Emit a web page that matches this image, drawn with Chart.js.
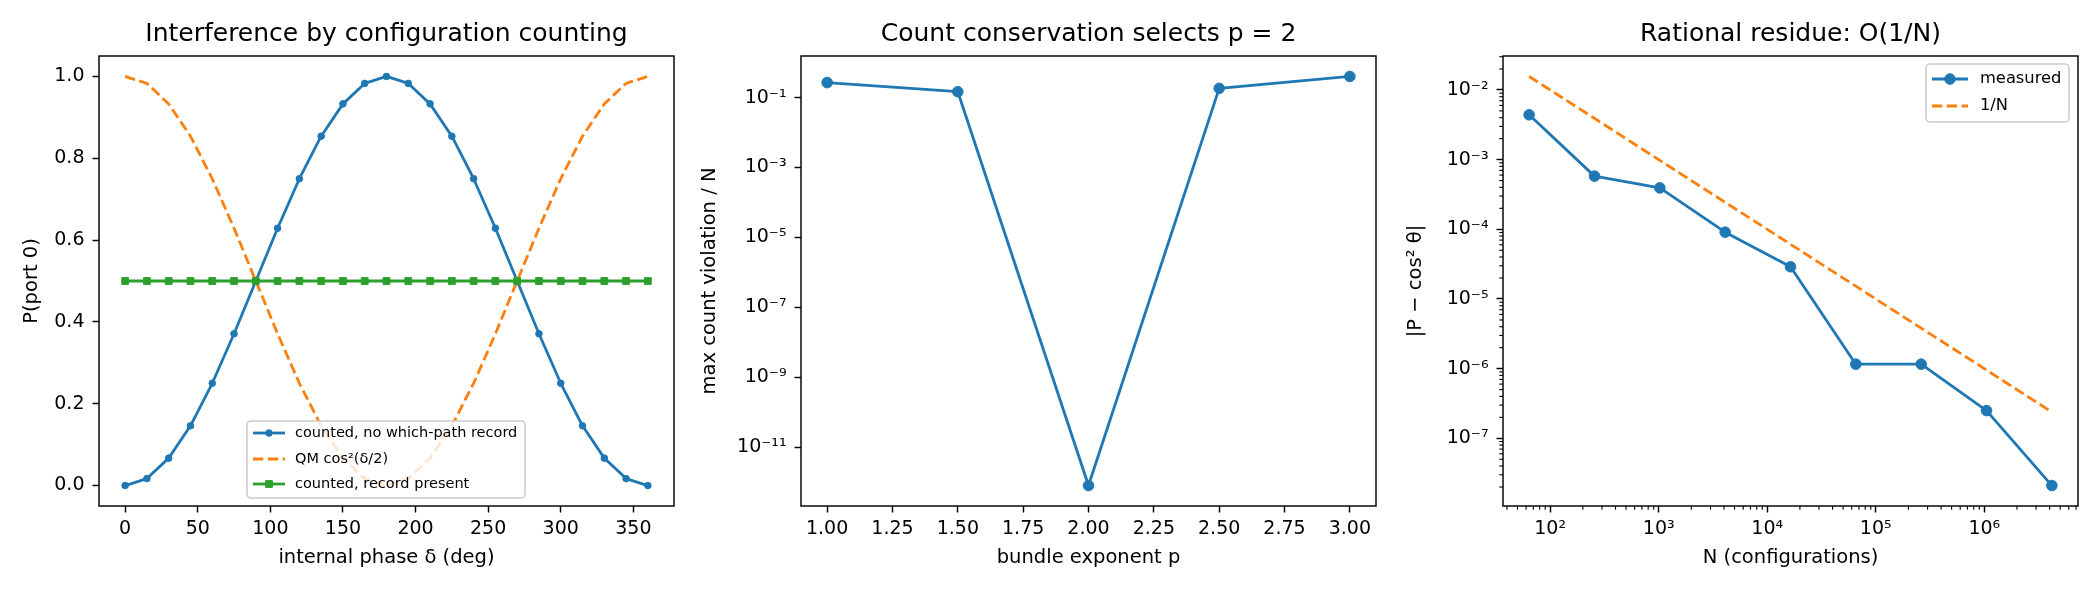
<!DOCTYPE html>
<html><head><meta charset="utf-8">
<script src="https://cdn.jsdelivr.net/npm/chart.js@4.4.0/dist/chart.umd.min.js"></script>
<style>
html,body{margin:0;padding:0;background:#fff;width:2100px;height:600px;overflow:hidden;}
canvas{position:absolute;top:0;}
</style></head><body>
<canvas id="c1" width="700" height="600" style="left:0px;width:700px;height:600px"></canvas>
<canvas id="c2" width="700" height="600" style="left:698px;width:700px;height:600px"></canvas>
<canvas id="c3" width="700" height="600" style="left:1400px;width:700px;height:600px"></canvas>
<script>
// ---------------- data ----------------
const phaseDeg = [0,15,30,45,60,75,90,105,120,135,150,165,180,195,210,225,240,255,270,285,300,315,330,345,360];
const countedNoRecord = [0,0.017,0.067,0.146,0.25,0.371,0.5,0.629,0.75,0.854,0.933,0.983,1.0,0.983,0.933,0.854,0.75,0.629,0.5,0.371,0.25,0.146,0.067,0.017,0];
const qmCos2 = [1.0,0.983,0.933,0.854,0.75,0.629,0.5,0.371,0.25,0.146,0.067,0.017,0,0.017,0.067,0.146,0.25,0.371,0.5,0.629,0.75,0.854,0.933,0.983,1.0];
const countedRecord = [0.5,0.5,0.5,0.5,0.5,0.5,0.5,0.5,0.5,0.5,0.5,0.5,0.5,0.5,0.5,0.5,0.5,0.5,0.5,0.5,0.5,0.5,0.5,0.5,0.5];

const bundleExponent = [1.0,1.5,2.0,2.5,3.0];
const maxViolation = [0.27,0.148,7.9e-13,0.185,0.405];

const configN = [64,256,1024,4096,16384,65536,262144,1048576,4194304];
const residueMeasured = [4.4e-3,5.8e-4,3.93e-4,9.1e-5,2.9e-5,1.16e-6,1.16e-6,2.5e-7,2.1e-8];
const oneOverN = [1.5625e-2,3.906e-3,9.766e-4,2.441e-4,6.104e-5,1.526e-5,3.815e-6,9.537e-7,2.384e-7];

const phaseTicks = [0,50,100,150,200,250,300,350];
const probTicks = [0,0.2,0.4,0.6,0.8,1.0];
const exponentTicks = [1.0,1.25,1.5,1.75,2.0,2.25,2.5,2.75,3.0];
const violationTicks = [1e-1,1e-3,1e-5,1e-7,1e-9,1e-11];
const nTicks = [1e2,1e3,1e4,1e5,1e6];
const residueTicks = [1e-2,1e-3,1e-4,1e-5,1e-6,1e-7];

// ---------------- helpers ----------------
const FONT = "'DejaVu Sans', 'Liberation Sans', sans-serif";
const BLUE = '#1f77b4', ORANGE = '#ff7f0e', GREEN = '#2ca02c';
const TICK_FS = 19, LABEL_FS = 19.5, TITLE_FS = 25;
Chart.defaults.font.family = FONT;
Chart.defaults.color = '#000';

function linRange(vals){const lo=Math.min(...vals),hi=Math.max(...vals),m=0.05*(hi-lo);return [lo-m,hi+m];}
function logRange(vals){const l=vals.map(v=>Math.log10(v));const lo=Math.min(...l),hi=Math.max(...l),m=0.05*(hi-lo);return [Math.pow(10,lo-m),Math.pow(10,hi+m)];}
const SUP = {'0':'⁰','1':'¹','2':'²','3':'³','4':'⁴','5':'⁵','6':'⁶','7':'⁷','8':'⁸','9':'⁹','-':'⁻'};
function pow10Label(v){const e=Math.round(Math.log10(v));return '10'+String(e).split('').map(c=>SUP[c]).join('');}
function pts(xs,ys){return xs.map((x,i)=>({x:x,y:ys[i]}));}
function minorVals(lo,hi){const out=[];for(let e=Math.floor(Math.log10(lo));e<=Math.ceil(Math.log10(hi));e++){for(let k=2;k<=9;k++){const v=k*Math.pow(10,e);if(v>=lo&&v<=hi)out.push(v);}}return out;}

function axis(type,min,max,tickVals,fmt,isY,L,titleText,titlePad){
  return {
    type:type,min:min,max:max,
    afterBuildTicks:(s)=>{s.ticks=tickVals.map(v=>({value:v}));},
    afterFit:(s)=>{ if(isY){s.width=L;} else {s.height=94;} },
    ticks:{callback:fmt,autoSkip:false,maxRotation:0,minRotation:0,padding:isY?8:5,color:'#000',font:{size:TICK_FS,family:FONT}},
    grid:{display:true,drawOnChartArea:false,drawTicks:true,tickLength:6.5,tickWidth:1.45,tickColor:'#000'},
    border:{display:false},
    title:{display:true,text:titleText,color:'#000',font:{size:LABEL_FS,family:FONT},padding:isY?{top:titlePad,bottom:0}:{top:0,bottom:titlePad}}
  };
}

function roundRectPath(ctx,x,y,w,h,r){ctx.beginPath();ctx.moveTo(x+r,y);ctx.lineTo(x+w-r,y);ctx.arcTo(x+w,y,x+w,y+r,r);ctx.lineTo(x+w,y+h-r);ctx.arcTo(x+w,y+h,x+w-r,y+h,r);ctx.lineTo(x+r,y+h);ctx.arcTo(x,y+h,x,y+h-r,r);ctx.lineTo(x,y+r);ctx.arcTo(x,y,x+r,y,r);ctx.closePath();}

function drawMarker(ctx,style,x,y,r,color,bw){
  ctx.fillStyle=color;ctx.strokeStyle=color;ctx.lineWidth=bw;
  ctx.beginPath();
  if(style==='rect'){const s=r*Math.SQRT1_2;ctx.rect(x-s,y-s,2*s,2*s);}
  else{ctx.arc(x,y,r,0,Math.PI*2);}
  ctx.fill();ctx.stroke();
}

function framePlugin(minor, legend){
  return {
    id:'frameAndLegend',
    afterDraw(chart){
      const ctx=chart.ctx, a=chart.chartArea;
      ctx.save();
      ctx.strokeStyle='#000';ctx.lineWidth=1.45;ctx.setLineDash([]);
      ctx.strokeRect(a.left,a.top,a.right-a.left,a.bottom-a.top);
      if(minor){
        ctx.lineWidth=1.1;
        const xs=chart.scales.x, ys=chart.scales.y;
        minorVals(xs.min,xs.max).forEach(v=>{const p=xs.getPixelForValue(v);ctx.beginPath();ctx.moveTo(p,a.bottom);ctx.lineTo(p,a.bottom+3.7);ctx.stroke();});
        minorVals(ys.min,ys.max).forEach(v=>{const p=ys.getPixelForValue(v);ctx.beginPath();ctx.moveTo(a.left,p);ctx.lineTo(a.left-3.7,p);ctx.stroke();});
      }
      if(legend){
        const L=legend;
        roundRectPath(ctx,L.x,L.y,L.w,L.h,4);
        ctx.fillStyle='rgba(255,255,255,0.8)';ctx.fill();
        ctx.strokeStyle='#cccccc';ctx.lineWidth=1.6;ctx.stroke();
        L.rows.forEach(r=>{
          const ds=chart.data.datasets[r.ds];
          ctx.beginPath();ctx.setLineDash(ds.borderDash||[]);
          ctx.strokeStyle=ds.borderColor;ctx.lineWidth=ds.borderWidth;ctx.lineCap='butt';
          ctx.moveTo(L.hx1,r.y);ctx.lineTo(L.hx2,r.y);ctx.stroke();ctx.setLineDash([]);
          if(ds.pointRadius>0){drawMarker(ctx,ds.pointStyle,(L.hx1+L.hx2)/2,r.y,ds.pointRadius,ds.pointBackgroundColor,ds.pointBorderWidth);}
          ctx.fillStyle='#000';ctx.font=L.font+'px '+FONT;ctx.textBaseline='middle';ctx.textAlign='left';
          ctx.fillText(ds.label,L.tx,r.y);
        });
      }
      ctx.restore();
    }
  };
}

function titleOpt(text){return {display:true,fullSize:false,text:text,color:'#000',font:{size:TITLE_FS,family:FONT,weight:'normal',lineHeight:1.2},padding:{top:19.6,bottom:6.4}};}

function baseOptions(L,R,title,scales){
  return {
    responsive:false,animation:false,devicePixelRatio:1,events:[],
    layout:{padding:{left:0,right:R,top:0,bottom:0}},
    plugins:{legend:{display:false},tooltip:{enabled:false},title:titleOpt(title)},
    scales:scales
  };
}

// ---------------- panel 1 ----------------
const r1x = linRange(phaseDeg);
const r1y = linRange(countedNoRecord.concat(qmCos2,countedRecord));
new Chart(document.getElementById('c1'),{
  type:'line',
  data:{datasets:[
    {label:'counted, no which-path record',data:pts(phaseDeg,countedNoRecord),borderColor:BLUE,backgroundColor:BLUE,borderWidth:2.8,pointRadius:3.3,pointStyle:'circle',pointBackgroundColor:BLUE,pointBorderColor:BLUE,pointBorderWidth:1,tension:0,fill:false,order:2,borderJoinStyle:'round'},
    {label:'QM cos²(δ/2)',data:pts(phaseDeg,qmCos2),borderColor:ORANGE,backgroundColor:ORANGE,borderWidth:2.8,borderDash:[10.3,4.5],pointRadius:0,tension:0,fill:false,order:1},
    {label:'counted, record present',data:pts(phaseDeg,countedRecord),borderColor:GREEN,backgroundColor:GREEN,borderWidth:2.8,pointRadius:4.8,pointStyle:'rect',pointBackgroundColor:GREEN,pointBorderColor:GREEN,pointBorderWidth:1,tension:0,fill:false,order:0}
  ]},
  options:baseOptions(99,26,'Interference by configuration counting',{
    x:axis('linear',r1x[0],r1x[1],phaseTicks,(v)=>String(v),false,99,'internal phase δ (deg)',30),
    y:axis('linear',r1y[0],r1y[1],probTicks,(v)=>v.toFixed(1),true,99,'P(port 0)',20)
  }),
  plugins:[framePlugin(false,{x:247,y:421,w:278,h:77,hx1:253,hx2:285,tx:295,font:14.5,rows:[{ds:0,y:433},{ds:1,y:459},{ds:2,y:484}]})]
});

// ---------------- panel 2 ----------------
const r2x = linRange(bundleExponent);
const r2y = logRange(maxViolation);
new Chart(document.getElementById('c2'),{
  type:'line',
  data:{datasets:[
    {label:'max count violation / N',data:pts(bundleExponent,maxViolation),borderColor:BLUE,backgroundColor:BLUE,borderWidth:2.8,pointRadius:5.3,pointStyle:'circle',pointBackgroundColor:BLUE,pointBorderColor:BLUE,pointBorderWidth:1,tension:0,fill:false,borderJoinStyle:'round'}
  ]},
  options:baseOptions(103,22,'Count conservation selects p = 2',{
    x:axis('linear',r2x[0],r2x[1],exponentTicks,(v)=>v.toFixed(2),false,103,'bundle exponent p',30),
    y:axis('logarithmic',r2y[0],r2y[1],violationTicks,pow10Label,true,103,'max count violation / N',0)
  }),
  plugins:[framePlugin(false,null)]
});

// ---------------- panel 3 ----------------
const r3x = logRange(configN);
const r3y = logRange(residueMeasured.concat(oneOverN));
new Chart(document.getElementById('c3'),{
  type:'line',
  data:{datasets:[
    {label:'measured',data:pts(configN,residueMeasured),borderColor:BLUE,backgroundColor:BLUE,borderWidth:2.8,pointRadius:5.3,pointStyle:'circle',pointBackgroundColor:BLUE,pointBorderColor:BLUE,pointBorderWidth:1,tension:0,fill:false,order:1,borderJoinStyle:'round'},
    {label:'1/N',data:pts(configN,oneOverN),borderColor:ORANGE,backgroundColor:ORANGE,borderWidth:2.8,borderDash:[10.3,4.5],pointRadius:0,tension:0,fill:false,order:0}
  ]},
  options:baseOptions(103,22,'Rational residue: O(1/N)',{
    x:axis('logarithmic',r3x[0],r3x[1],nTicks,pow10Label,false,103,'N (configurations)',30),
    y:axis('logarithmic',r3y[0],r3y[1],residueTicks,pow10Label,true,103,'|P − cos² θ|',4.3)
  }),
  plugins:[framePlugin(true,{x:526,y:64,w:143,h:58,hx1:532,hx2:568,tx:580,font:16.3,rows:[{ds:0,y:79},{ds:1,y:106}]})]
});
</script>
</body></html>
